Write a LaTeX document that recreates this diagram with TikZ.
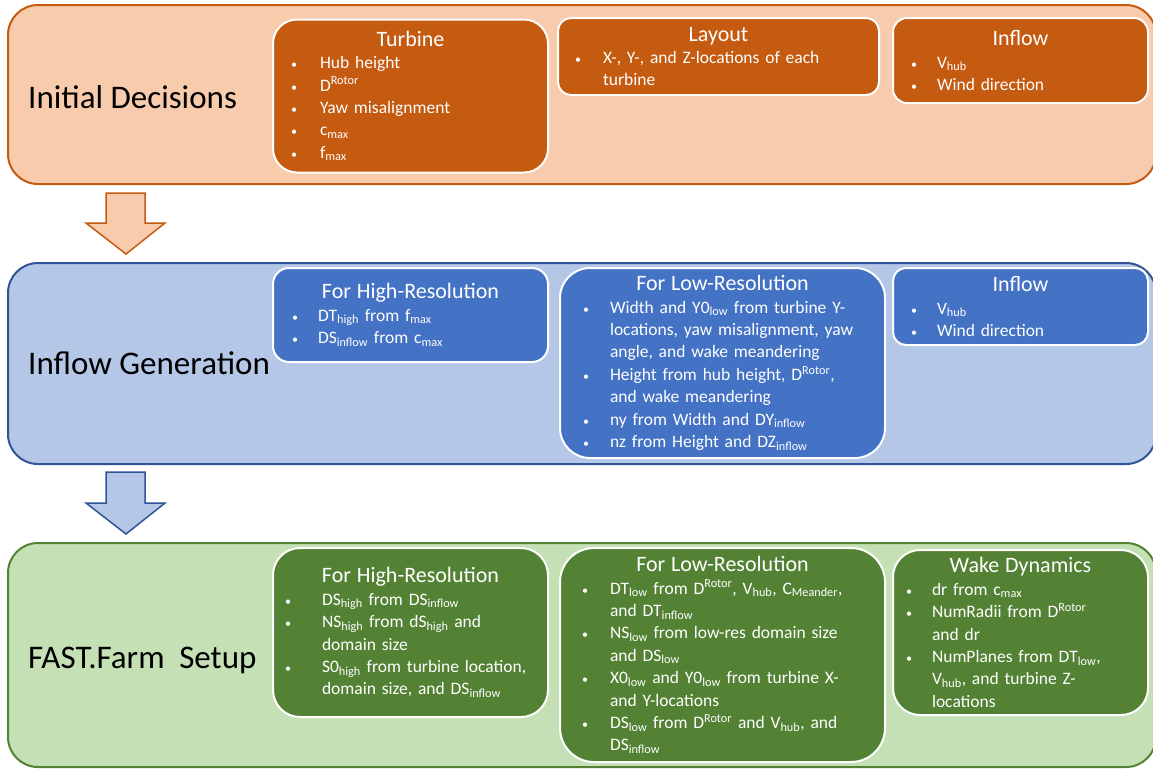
\documentclass[tikz,border=0pt]{standalone}
\usepackage{fontspec}
\setmainfont{Carlito}
\definecolor{orLight}{HTML}{F8CBAD}
\definecolor{orDark}{HTML}{C55A11}
\definecolor{blLight}{HTML}{B4C7E7}
\definecolor{blEdge}{HTML}{2F5597}
\definecolor{blDark}{HTML}{4472C4}
\definecolor{grLight}{HTML}{C5E0B4}
\definecolor{grDark}{HTML}{548235}
\newlength\gapw
\newcommand\bul{{\fontsize{12}{12}\selectfont\textbullet}}
\newcommand\itm[1]{\par\noindent\hangindent=\gapw\hangafter=1\makebox[\gapw][l]{\bul}#1\par}
\newcommand\ttl[1]{{\centering\fontsize{22}{27}\selectfont #1\par}}
\newcommand\sub[1]{\textsubscript{#1}}
\newcommand\sups[1]{\textsuperscript{#1}}
\tikzset{
  sec/.style n args={2}{draw=#2, fill=#1, line width=2pt, rounded corners=30pt, inner sep=0pt},
  ibox/.style={draw=white, fill=#1, line width=2pt, text=white, align=left, inner ysep=0pt,
     font=\fontsize{17.5}{22.4}\selectfont},
  gap/.style={execute at begin node={\setlength\gapw{#1pt}\parindent=0pt\parskip=0pt\lineskiplimit=-20pt\lineskip=0pt}},
  lab/.style={anchor=west, inner sep=0pt, font=\fontsize{33}{36}\selectfont, text=black},
  arr/.style n args={2}{draw=#2, fill=#1, line width=1.5pt, line join=miter}
}
\begin{document}
\begin{tikzpicture}[x=1pt,y=-1pt]
\useasboundingbox (0,0) rectangle (1153,769);
% sections
\node[sec={orLight}{orDark}, minimum width=1148pt, minimum height=179pt] (s1) at (582,94.5) {};
\node[sec={blLight}{blEdge}, minimum width=1148pt, minimum height=201pt] (s2) at (582,363.5) {};
\node[sec={grLight}{grDark}, minimum width=1148pt, minimum height=224pt] (s3) at (582,655) {};
% labels
\node[lab] (l1) at (28,97) {Initial Decisions};
\node[lab] (l2) at (28,363) {Inflow Generation};
\node[lab] (l3) at (28,660) {FAST.Farm\hspace{0.22em} Setup};
% arrows
\draw[arr={orLight}{orDark}] (106,193) -- (145,193) -- (145,223) -- (165,223) -- (126,254) -- (86,223) -- (106,223) -- cycle;
\draw[arr={blLight}{blEdge}] (106,472) -- (145,472) -- (145,503) -- (165,503) -- (126,534) -- (86,503) -- (106,503) -- cycle;
% top row
\node[ibox=orDark, rounded corners=24pt, minimum width=275pt, minimum height=153pt, text width=239pt, inner xsep=18pt, gap=29] (turb) at (410.5,96) {%
\ttl{Turbine}\itm{Hub height}\itm{D\sups{Rotor}}\itm{Yaw misalignment}\itm{c\sub{max}}\itm{f\sub{max}}};
\node[ibox=orDark, rounded corners=13pt, minimum width=321pt, minimum height=77pt, text width=287pt, inner xsep=17pt, gap=28] (lay) at (718.5,56.5) {%
\ttl{Layout}\itm{X-, Y-, and Z-locations of each\newline turbine}};
\node[ibox=orDark, rounded corners=14pt, minimum width=255pt, minimum height=85pt, text width=219pt, inner xsep=18pt, gap=26] (inf1) at (1020.5,60.5) {%
\ttl{Inflow}\itm{V\sub{hub}}\itm{Wind direction}};
% middle row
\node[ibox=blDark, rounded corners=16pt, minimum width=275pt, minimum height=94pt, text width=237pt, inner xsep=19pt, gap=26] (hm) at (410.5,315) {%
\ttl{For High-Resolution}\itm{DT\sub{high} from f\sub{max}}\itm{DS\sub{inflow} from c\sub{max}}};
\node[ibox=blDark, rounded corners=30pt, minimum width=325pt, minimum height=190pt, text width=279pt, inner xsep=23pt, gap=27] (lm) at (722.5,363) {%
\ttl{For Low-Resolution}\itm{Width and Y0\sub{low} from turbine Y-\newline locations, yaw misalignment, yaw\newline angle, and wake meandering}\itm{Height from hub height, D\sups{Rotor},\newline and wake meandering}\itm{ny from Width and DY\sub{inflow}}\itm{nz from Height and DZ\sub{inflow}}};
\node[ibox=blDark, rounded corners=13pt, minimum width=255pt, minimum height=77pt, text width=219pt, inner xsep=18pt, gap=26] (inf2) at (1020.5,306.5) {%
\ttl{Inflow}\itm{V\sub{hub}}\itm{Wind direction}};
% bottom row
\node[ibox=grDark, rounded corners=27pt, minimum width=275pt, minimum height=169pt, text width=251pt, inner xsep=12pt, gap=37] (hb) at (410.5,632.5) {%
\ttl{For High-Resolution}\itm{DS\sub{high} from DS\sub{inflow}}\itm{NS\sub{high} from dS\sub{high} and\newline domain size}\itm{S0\sub{high} from turbine location,\newline domain size, and DS\sub{inflow}}};
\node[ibox=grDark, rounded corners=34pt, minimum width=325pt, minimum height=214pt, text width=281pt, inner xsep=22pt, gap=28] (lb) at (722.5,655) {%
\ttl{For Low-Resolution}\itm{DT\sub{low} from D\sups{Rotor}, V\sub{hub}, C\sub{Meander},\newline and DT\sub{inflow}}\itm{NS\sub{low} from low-res domain size\newline and DS\sub{low}}\itm{X0\sub{low} and Y0\sub{low} from turbine X-\newline and Y-locations}\itm{DS\sub{low} from D\sups{Rotor} and V\sub{hub}, and\newline DS\sub{inflow}}};
\node[ibox=grDark, rounded corners=27pt, minimum width=255pt, minimum height=165pt, text width=229pt, inner xsep=13pt, gap=26] (wake) at (1020.5,632.5) {%
\ttl{Wake Dynamics}\itm{dr from c\sub{max}}\itm{NumRadii from D\sups{Rotor}\newline and dr}\itm{NumPlanes from DT\sub{low},\newline V\sub{hub}, and turbine Z-\newline locations}};
\end{tikzpicture}
\end{document}
